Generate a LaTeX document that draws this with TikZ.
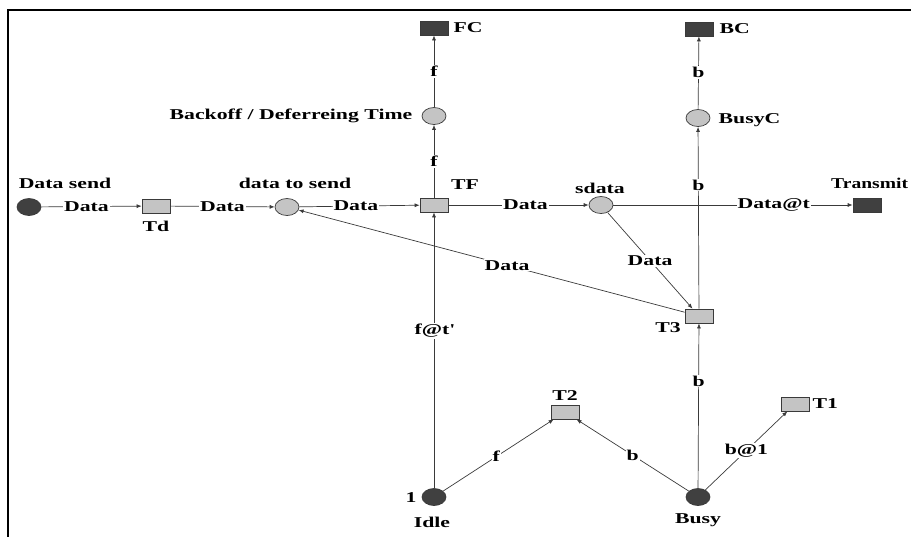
\documentclass[tikz,border=0pt]{standalone}
\usepackage{fontspec}
\setmainfont{Liberation Serif}[FakeStretch=1.45]
\usetikzlibrary{shapes.geometric,arrows.meta}
\definecolor{dk}{HTML}{404040}
\definecolor{lt}{HTML}{C4C4C4}
\definecolor{ln}{HTML}{3A3A3A}
\tikzset{
  txt/.style={font=\fontsize{15}{17}\selectfont\bfseries, inner sep=0.5pt},
  lab/.style={txt, fill=white, inner sep=1pt},
  place/.style={ellipse, draw=ln, fill=lt, minimum width=24pt, minimum height=17pt, inner sep=0pt, line width=0.7pt},
  dplace/.style={place, fill=dk},
  trans/.style={rectangle, draw=ln, fill=lt, minimum width=28pt, minimum height=14pt, inner sep=0pt, line width=0.7pt},
  dtrans/.style={trans, fill=dk},
  arc/.style={draw=ln, line width=0.7pt, -{Latex[length=5pt,width=4pt]}},
}
\begin{document}
\begin{tikzpicture}[x=1pt,y=-1pt]
\useasboundingbox (0,0) rectangle (911,536);
\draw[line width=2.5pt] (8,537) -- (8,10) -- (912,10);

% places
\node[dplace] (ds) at (29,207) {};
\node[place] (dts) at (287,207) {};
\node[place] (sd) at (601,205) {};
\node[place] (bo) at (434,116) {};
\node[place] (bu) at (698,118) {};
\node[dplace] (idle) at (434,497) {};
\node[dplace] (busy) at (698,497) {};

% transitions
\node[trans] (td) at (156,206) {};
\node[trans] (tf) at (434,205) {};
\node[trans] (t3) at (699,316) {};
\node[trans] (t2) at (565,412) {};
\node[trans] (t1) at (795,404) {};
\node[dtrans] (tr) at (867,205) {};
\node[dtrans] (fc) at (434,28) {};
\node[dtrans] (bc) at (699,29) {};

% node labels
\node[txt] (lds) at (65,183) {Data send};
\node[txt] (ltd) at (156,226) {Td};
\node[txt] (ldts) at (295,183) {data to send};
\node[txt] (ltf) at (465,185) {TF};
\node[txt] (lsd) at (600,188) {sdata};
\node[txt, anchor=west, inner sep=0pt] (ltr) at (831,183) {\scalebox{0.9}[1]{Transmit}};
\node[txt, anchor=east] (lbo) at (413,116) {Backoff / Deferreing Time};
\node[txt, anchor=west] (lfc) at (453,28) {FC};
\node[txt, anchor=west] (lbc) at (719,29) {BC};
\node[txt, anchor=west] (lbu) at (718,120) {BusyC};
\node[txt] (lt3) at (668,328) {T3};
\node[txt] (lt2) at (565,396) {T2};
\node[txt, anchor=west] (lt1) at (812,404) {T1};
\node[txt] (ltok) at (411,498) {1};
\node[txt] (lidle) at (432,522) {Idle};
\node[txt] (lbusy) at (698,520) {Busy};

% arcs
\draw[arc] (ds) -- node[lab, pos=0.45] {Data} (td);
\draw[arc] (td) -- node[lab] {Data} (dts);
\draw[arc] (dts) -- node[lab, pos=0.47] {Data} (tf);
\draw[arc] (tf) -- node[lab, pos=0.55] {Data} (sd);
\draw[arc] (sd) -- node[lab, pos=0.67] {Data@t} (tr);
\draw[arc] (tf) -- node[lab] {f} (bo);
\draw[arc] (bo) -- node[lab] {f} (fc);
\draw[arc] (t3) -- node[lab, pos=0.68] {b} (bu);
\draw[arc] (bu) -- node[lab] {b} (bc);
\draw[arc] (sd) -- node[lab] {Data} (t3);
\draw[arc] (t3) -- node[lab, pos=0.46] {Data} (dts);
\draw[arc] (idle) -- node[lab, pos=0.57] {f@t\textquotesingle} (tf);
\draw[arc] (busy) -- node[lab, pos=0.65] {b} (t3);
\draw[arc] (idle) -- node[lab, pos=0.48] {f} (t2);
\draw[arc] (busy) -- node[lab] {b} (t2);
\draw[arc] (busy) -- node[lab] {b@1} (t1);
\end{tikzpicture}
\end{document}
